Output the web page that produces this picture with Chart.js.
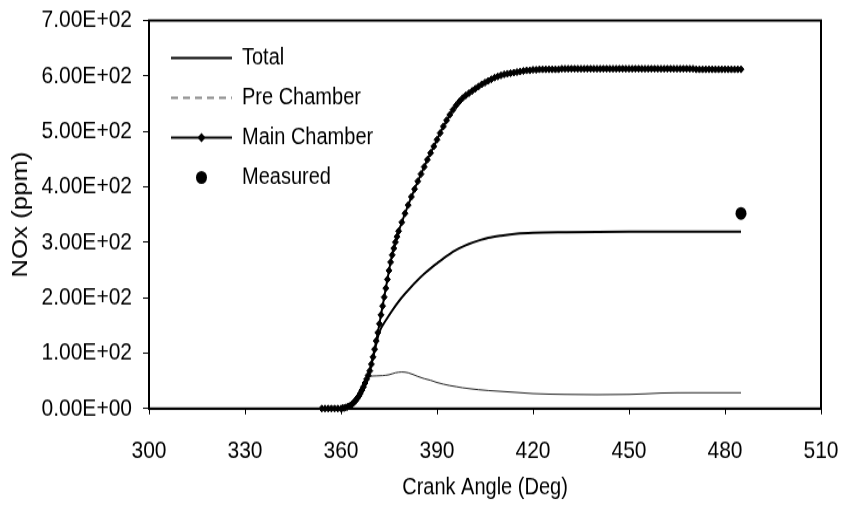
<!DOCTYPE html>
<html>
<head>
<meta charset="utf-8">
<title>NOx vs Crank Angle</title>
<script src="https://cdn.jsdelivr.net/npm/chart.js@4.4.1/dist/chart.umd.min.js"></script>
<style>
  html, body { margin: 0; padding: 0; background: #fff; }
</style>
</head>
<body>
<!-- drawn at 843x438 and shown at 843x513, which gives the tall Excel-style lettering -->
<canvas id="nox" width="843" height="438" style="display:block;width:843px;height:513px"></canvas>
<script>
// crank angle (deg) and NOx (ppm) for each series
const mainAngle = [
  354, 355, 356, 357, 358, 359,
  360, 360.5, 361, 361.5, 362, 362.5, 363, 363.5, 364, 364.5,
  365, 365.5, 366, 366.5, 367, 367.5, 368, 368.5, 369, 369.5,
  370, 370.5, 371, 371.5, 372, 372.5, 373, 373.5, 374, 374.5,
  375, 375.5, 376, 376.5, 377, 377.5,
  378, 379, 380, 381, 382, 383, 384, 385, 386, 387,
  388, 389, 390, 391, 392, 393, 394, 395, 396, 397,
  398, 399, 400, 401, 402, 403, 404, 405, 406, 407,
  408, 409, 410, 411, 412, 413, 414, 415, 416, 417,
  418, 419, 420, 421, 422, 423, 424, 425, 426, 427,
  428, 429, 430, 431, 432, 433, 434, 435, 436, 437,
  438, 439, 440, 441, 442, 443, 444, 445, 446, 447,
  448, 449, 450, 451, 452, 453, 454, 455, 456, 457,
  458, 459, 460, 461, 462, 463, 464, 465, 466, 467,
  468, 469, 470, 471, 472, 473, 474, 475, 476, 477,
  478, 479, 480, 481, 482, 483, 484, 485
];
const mainNOx = [
  0, 0, 0, 0, 0, 0,
  0, 1, 1, 2, 3, 4, 6, 8, 11, 14,
  18, 22, 27, 33, 39, 46, 53, 60, 68, 80,
  93, 107, 122, 137, 153, 169, 185, 201, 217, 233,
  249, 264, 277, 289, 300, 310,
  320, 336, 352, 367, 382, 396, 410, 423, 436, 449,
  461, 473, 485, 497, 509, 520, 530, 539, 547, 554,
  560, 565, 569, 573, 577, 581, 585, 588, 591, 594,
  597, 599, 601, 603, 604, 605, 606, 607, 608, 609,
  610, 610, 611, 611, 612, 612, 612, 612, 612, 612,
  612, 613, 613, 613, 613, 613, 613, 613, 613, 613,
  613, 613, 613, 613, 613, 613, 613, 613, 613, 613,
  613, 613, 613, 613, 613, 613, 613, 613, 613, 613,
  613, 613, 613, 613, 613, 613, 613, 613, 613, 613,
  613, 613, 613, 612, 612, 612, 612, 612, 612, 612,
  612, 612, 612, 612, 612, 612, 612, 612
];

const totalAngle = [354, 360, 362, 363, 364, 365, 366, 367, 368, 369, 370, 371, 372, 374, 376, 378,
  380, 382, 384, 386, 388, 390, 392, 394, 396, 398, 400, 403, 406, 410, 415, 420, 430, 450, 485];
const totalNOx = [0, 0, 2, 4, 8, 14, 22, 33, 48, 68, 92, 116, 138, 159, 177, 193,
  207, 220, 232, 243, 253, 262, 271, 279, 286, 292, 297, 303, 308, 312, 315.5, 317, 318, 319, 319];

const preAngle = [354, 360, 362, 363, 364, 365, 366, 367, 368, 369, 371, 373, 375, 377, 379, 381,
  384, 386, 388, 390, 392, 394, 396, 398, 400, 403, 406, 410, 415, 420, 425, 430, 440, 450, 455, 460, 470, 485];
const preNOx = [0, 0, 2, 4, 9, 17, 30, 45, 55, 58, 59, 59.5, 61, 64.5, 66, 64.5,
  58, 54, 51, 47, 44, 41.5, 39.5, 37.5, 36, 34, 32.5, 31, 29, 27, 26, 25.5, 25, 25.5, 26.5, 28, 28.5, 28.5];

const measuredAngle = [485];
const measuredNOx = [352];

const FONT = '"Liberation Sans", Arial, sans-serif';

const pairs = (xs, ys) => xs.map((x, i) => ({ x: x, y: ys[i] }));

// Excel style scientific labels: 7.00E+02
function sciLabel(v) {
  if (v === 0) return '0.00E+00';
  const e = Math.floor(Math.log10(v) + 1e-9);
  return (v / Math.pow(10, e)).toFixed(2) + 'E+' + String(e).padStart(2, '0');
}

// box round the plot area
const plotFrame = {
  id: 'plotFrame',
  afterDraw(chart) {
    const { ctx, chartArea: a } = chart;
    ctx.save();
    ctx.strokeStyle = '#000';
    ctx.lineWidth = 2;
    ctx.strokeRect(a.left, a.top, a.right - a.left, a.bottom - a.top);
    ctx.restore();
  }
};

// legend inside the top left corner of the plot
const insideLegend = {
  id: 'insideLegend',
  afterDraw(chart) {
    const { ctx, chartArea: a } = chart;
    const x0 = a.left + 22, x1 = a.left + 83, tx = a.left + 93;
    const mid = (x0 + x1) / 2;
    ctx.save();
    chart.data.datasets.forEach((ds, i) => {
      const y = a.top + 32 + i * 34;
      if (ds.showLine !== false) {
        ctx.strokeStyle = ds.legendColor || ds.borderColor;
        ctx.lineWidth = ds.legendWidth || ds.borderWidth;
        ctx.setLineDash(ds.legendDash || []);
        ctx.beginPath();
        ctx.moveTo(x0, y);
        ctx.lineTo(x1, y);
        ctx.stroke();
        ctx.setLineDash([]);
      }
      if (ds.pointRadius > 0) {
        const r = ds.legendRadius || ds.pointRadius;
        ctx.fillStyle = ds.pointBackgroundColor;
        ctx.beginPath();
        if (ds.pointStyle === 'rectRot') {
          ctx.moveTo(mid, y - r);
          ctx.lineTo(mid + r, y);
          ctx.lineTo(mid, y + r);
          ctx.lineTo(mid - r, y);
          ctx.closePath();
        } else {
          ctx.arc(mid, y, r, 0, Math.PI * 2);
        }
        ctx.fill();
      }
      ctx.fillStyle = '#000';
      ctx.font = '20px ' + FONT;
      ctx.textAlign = 'left';
      ctx.textBaseline = 'middle';
      ctx.fillText(ds.label, tx, y);
    });
    ctx.restore();
  }
};

Chart.defaults.font.family = FONT;
Chart.defaults.color = '#000';

new Chart(document.getElementById('nox'), {
  type: 'line',
  data: {
    datasets: [
      {
        label: 'Total',
        data: pairs(totalAngle, totalNOx),
        borderColor: '#000',
        borderWidth: 2,
        pointRadius: 0,
        cubicInterpolationMode: 'monotone',
        order: 2
      },
      {
        label: 'Pre Chamber',
        data: pairs(preAngle, preNOx),
        borderColor: '#222',
        borderWidth: 1,
        pointRadius: 0,
        cubicInterpolationMode: 'monotone',
        legendColor: '#888',
        legendWidth: 2,
        legendDash: [7, 5],
        order: 3
      },
      {
        label: 'Main Chamber',
        data: pairs(mainAngle, mainNOx),
        borderColor: '#000',
        borderWidth: 2,
        pointStyle: 'rectRot',
        pointRadius: 3,
        pointBorderWidth: 1,
        pointBackgroundColor: '#000',
        pointBorderColor: '#000',
        legendRadius: 4,
        clip: false,
        order: 1
      },
      {
        label: 'Measured',
        data: pairs(measuredAngle, measuredNOx),
        showLine: false,
        pointStyle: 'circle',
        pointRadius: 5.5,
        pointBorderWidth: 0,
        pointBackgroundColor: '#000',
        pointBorderColor: '#000',
        order: 0
      }
    ]
  },
  options: {
    responsive: false,
    devicePixelRatio: 1,
    animation: false,
    events: [],
    layout: { padding: { top: 17.5, right: 22, bottom: 0, left: 0 } },
    plugins: { legend: { display: false }, tooltip: { enabled: false } },
    scales: {
      x: {
        type: 'linear',
        min: 300,
        max: 510,
        // fixed band height, and no extra room asked for the end labels
        afterFit(scale) {
          scale.height = 89.2;
          scale.paddingLeft = 0;
          scale.paddingRight = 0;
        },
        border: { display: true, color: '#000', width: 2 },
        grid: { drawOnChartArea: false, drawTicks: true, tickLength: 5, color: '#000', lineWidth: 1 },
        ticks: { stepSize: 30, autoSkip: false, maxRotation: 0, padding: 19, font: { size: 21 } },
        title: { display: true, text: 'Crank Angle (Deg)', font: { size: 20 }, padding: { top: 0, bottom: 10 } }
      },
      y: {
        min: 0,
        max: 700,
        afterFit(scale) {
          scale.width = 149;
          scale.paddingTop = 0;
          scale.paddingBottom = 0;
        },
        border: { display: true, color: '#000', width: 2 },
        grid: { drawOnChartArea: false, drawTicks: true, tickLength: 6, color: '#000', lineWidth: 1 },
        ticks: { stepSize: 100, padding: 11, font: { size: 21 }, callback: (v) => sciLabel(v) },
        title: { display: true, text: 'NOx (ppm)', font: { size: 22 }, padding: { top: 8, bottom: 0 } }
      }
    }
  },
  plugins: [plotFrame, insideLegend]
});
</script>
</body>
</html>
